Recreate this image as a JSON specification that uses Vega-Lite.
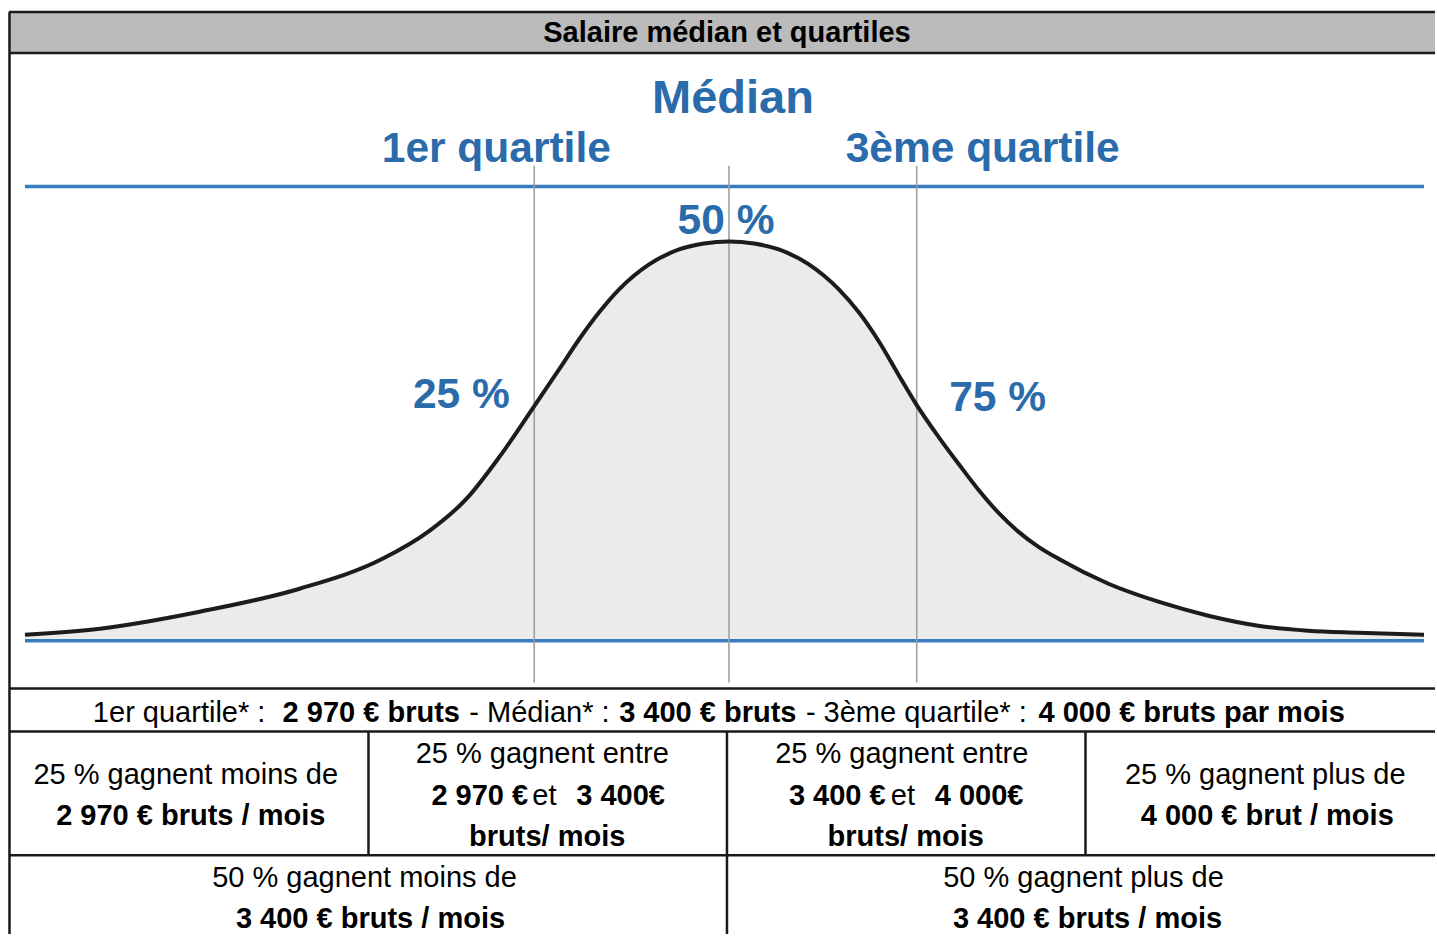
{
  "$schema": "https://vega.github.io/schema/vega-lite/v6.json",
  "width": 1437,
  "height": 936,
  "autosize": {"type": "fit", "contains": "padding"},
  "padding": 0,
  "background": "white",
  "config": {"view": {"stroke": null}, "text": {"font": "Liberation Sans"}},
  "datasets": {
    "titlebar": [{"x": 9, "x2": 1437, "y": 12, "y2": 53}],
    "curve": [
      {"x": 25, "y": 636}, {"x": 100, "y": 630}, {"x": 200, "y": 613}, {"x": 300, "y": 590},
      {"x": 383, "y": 560}, {"x": 430, "y": 532}, {"x": 467, "y": 500}, {"x": 500, "y": 458},
      {"x": 535, "y": 407}, {"x": 560, "y": 370}, {"x": 580, "y": 340}, {"x": 600, "y": 313},
      {"x": 620, "y": 290}, {"x": 650, "y": 265}, {"x": 680, "y": 250}, {"x": 705, "y": 244},
      {"x": 730, "y": 242}, {"x": 755, "y": 244}, {"x": 780, "y": 250}, {"x": 810, "y": 265},
      {"x": 840, "y": 290}, {"x": 860, "y": 313}, {"x": 880, "y": 342}, {"x": 900, "y": 376},
      {"x": 918, "y": 406}, {"x": 940, "y": 438}, {"x": 960, "y": 465}, {"x": 980, "y": 491},
      {"x": 1000, "y": 514}, {"x": 1020, "y": 533}, {"x": 1040, "y": 548}, {"x": 1060, "y": 560},
      {"x": 1110, "y": 585}, {"x": 1160, "y": 603}, {"x": 1210, "y": 617},
      {"x": 1260, "y": 627}, {"x": 1310, "y": 632}, {"x": 1360, "y": 634}, {"x": 1426, "y": 636}
    ],
    "bluelines": [{"x": 25, "x2": 1426, "y": 187}, {"x": 25, "x2": 1426, "y": 642}],
    "quartiles": [{"x": 535, "y": 166, "y2": 684}, {"x": 730, "y": 166, "y2": 684}, {"x": 918, "y": 166, "y2": 684}],
    "hborders": [
      {"x": 9, "x2": 1437, "y": 12}, {"x": 9, "x2": 1437, "y": 53}, {"x": 9, "x2": 1437, "y": 690},
      {"x": 9, "x2": 1437, "y": 733}, {"x": 9, "x2": 1437, "y": 857}
    ],
    "vborders": [
      {"x": 9.5, "y": 12, "y2": 936}, {"x": 369, "y": 733, "y2": 857},
      {"x": 728, "y": 733, "y2": 936}, {"x": 1087, "y": 733, "y2": 857}
    ],
    "bluelabels": [
      {"text": "Médian", "x": 734, "y": 99, "kind": "head"},
      {"text": "1er quartile", "x": 497, "y": 149, "kind": "sub"},
      {"text": "3ème quartile", "x": 984, "y": 149, "kind": "sub"},
      {"text": "50 %", "x": 727, "y": 221, "kind": "sub"},
      {"text": "25 %", "x": 462, "y": 396, "kind": "sub"},
      {"text": "75 %", "x": 999, "y": 399, "kind": "sub"}
    ],
    "titletext": [{"text": "Salaire médian et quartiles", "x": 728, "y": 33}],
    "tabletext": [
      {"text": "1er quartile* :", "x": 93, "y": 715, "part": "caption", "flow": "run"},
      {"text": "2 970 € bruts", "x": 283, "y": 715, "part": "value", "flow": "run"},
      {"text": "- Médian* :", "x": 470, "y": 715, "part": "caption", "flow": "run"},
      {"text": "3 400 € bruts", "x": 620, "y": 715, "part": "value", "flow": "run"},
      {"text": "- 3ème quartile* :", "x": 807, "y": 715, "part": "caption", "flow": "run"},
      {"text": "4 000 € bruts par mois", "x": 1040, "y": 715, "part": "value", "flow": "run"},
      {"text": "25 % gagnent moins de", "x": 186, "y": 777, "part": "caption", "flow": "centre"},
      {"text": "2 970 € bruts / mois", "x": 191, "y": 818, "part": "value", "flow": "centre"},
      {"text": "25 % gagnent entre", "x": 543, "y": 756, "part": "caption", "flow": "centre"},
      {"text": "2 970 €", "x": 432, "y": 798, "part": "value", "flow": "run"},
      {"text": "et", "x": 533, "y": 798, "part": "caption", "flow": "run"},
      {"text": "3 400€", "x": 577, "y": 798, "part": "value", "flow": "run"},
      {"text": "bruts/ mois", "x": 548, "y": 839, "part": "value", "flow": "centre"},
      {"text": "25 % gagnent entre", "x": 903, "y": 756, "part": "caption", "flow": "centre"},
      {"text": "3 400 €", "x": 790, "y": 798, "part": "value", "flow": "run"},
      {"text": "et", "x": 892, "y": 798, "part": "caption", "flow": "run"},
      {"text": "4 000€", "x": 936, "y": 798, "part": "value", "flow": "run"},
      {"text": "bruts/ mois", "x": 907, "y": 839, "part": "value", "flow": "centre"},
      {"text": "25 % gagnent plus de", "x": 1267, "y": 777, "part": "caption", "flow": "centre"},
      {"text": "4 000 € brut / mois", "x": 1269, "y": 818, "part": "value", "flow": "centre"},
      {"text": "50 % gagnent moins de", "x": 365, "y": 880, "part": "caption", "flow": "centre"},
      {"text": "3 400 € bruts / mois", "x": 371, "y": 921, "part": "value", "flow": "centre"},
      {"text": "50 % gagnent plus de", "x": 1085, "y": 880, "part": "caption", "flow": "centre"},
      {"text": "3 400 € bruts / mois", "x": 1089, "y": 921, "part": "value", "flow": "centre"}
    ]
  },
  "layer": [
    {
      "data": {"name": "titlebar"},
      "mark": {"type": "rect", "fill": "#bbbbbb"},
      "encoding": {
        "x": {"field": "x", "type": "quantitative", "scale": {"domain": [0, 1437], "nice": false, "zero": false}, "axis": null},
        "x2": {"field": "x2"},
        "y": {"field": "y", "type": "quantitative", "scale": {"domain": [0, 936], "nice": false, "zero": false, "reverse": true}, "axis": null},
        "y2": {"field": "y2"}
      }
    },
    {
      "data": {"name": "curve"},
      "mark": {"type": "area", "fill": "#ebebeb", "interpolate": "monotone"},
      "encoding": {
        "x": {"field": "x", "type": "quantitative"},
        "y": {"field": "y", "type": "quantitative"},
        "y2": {"datum": 641}
      }
    },
    {
      "data": {"name": "bluelines"},
      "mark": {"type": "rule", "stroke": "#3a7cc0", "strokeWidth": 3.5},
      "encoding": {
        "x": {"field": "x", "type": "quantitative"},
        "x2": {"field": "x2"},
        "y": {"field": "y", "type": "quantitative"}
      }
    },
    {
      "data": {"name": "quartiles"},
      "mark": {"type": "rule", "stroke": "#a0a0a0", "strokeWidth": 1.6},
      "encoding": {
        "x": {"field": "x", "type": "quantitative"},
        "y": {"field": "y", "type": "quantitative"},
        "y2": {"field": "y2"}
      }
    },
    {
      "data": {"name": "curve"},
      "mark": {"type": "line", "stroke": "#1c1c1c", "strokeWidth": 4, "interpolate": "monotone"},
      "encoding": {
        "x": {"field": "x", "type": "quantitative"},
        "y": {"field": "y", "type": "quantitative"}
      }
    },
    {
      "data": {"name": "hborders"},
      "mark": {"type": "rule", "stroke": "#1a1a1a", "strokeWidth": 2.5},
      "encoding": {
        "x": {"field": "x", "type": "quantitative"},
        "x2": {"field": "x2"},
        "y": {"field": "y", "type": "quantitative"}
      }
    },
    {
      "data": {"name": "vborders"},
      "mark": {"type": "rule", "stroke": "#1a1a1a", "strokeWidth": 2.5},
      "encoding": {
        "x": {"field": "x", "type": "quantitative"},
        "y": {"field": "y", "type": "quantitative"},
        "y2": {"field": "y2"}
      }
    },
    {
      "data": {"name": "bluelabels"},
      "transform": [{"filter": "datum.kind === 'head'"}],
      "mark": {"type": "text", "fontWeight": "bold", "fontSize": 47, "fill": "#2a6bab", "align": "center", "baseline": "middle"},
      "encoding": {
        "x": {"field": "x", "type": "quantitative"},
        "y": {"field": "y", "type": "quantitative"},
        "text": {"field": "text"}
      }
    },
    {
      "data": {"name": "bluelabels"},
      "transform": [{"filter": "datum.kind === 'sub'"}],
      "mark": {"type": "text", "fontWeight": "bold", "fontSize": 42.5, "fill": "#2a6bab", "align": "center", "baseline": "middle"},
      "encoding": {
        "x": {"field": "x", "type": "quantitative"},
        "y": {"field": "y", "type": "quantitative"},
        "text": {"field": "text"}
      }
    },
    {
      "data": {"name": "titletext"},
      "mark": {"type": "text", "fontWeight": "bold", "fontSize": 29, "fill": "#000000", "align": "center", "baseline": "middle"},
      "encoding": {
        "x": {"field": "x", "type": "quantitative"},
        "y": {"field": "y", "type": "quantitative"},
        "text": {"field": "text"}
      }
    },
    {
      "data": {"name": "tabletext"},
      "transform": [{"filter": "datum.part === 'value' && datum.flow === 'centre'"}],
      "mark": {"type": "text", "fontWeight": "bold", "fontSize": 29, "fill": "#000000", "align": "center", "baseline": "middle"},
      "encoding": {
        "x": {"field": "x", "type": "quantitative"},
        "y": {"field": "y", "type": "quantitative"},
        "text": {"field": "text"}
      }
    },
    {
      "data": {"name": "tabletext"},
      "transform": [{"filter": "datum.part === 'caption' && datum.flow === 'centre'"}],
      "mark": {"type": "text", "fontWeight": "normal", "fontSize": 29, "fill": "#000000", "align": "center", "baseline": "middle"},
      "encoding": {
        "x": {"field": "x", "type": "quantitative"},
        "y": {"field": "y", "type": "quantitative"},
        "text": {"field": "text"}
      }
    },
    {
      "data": {"name": "tabletext"},
      "transform": [{"filter": "datum.part === 'value' && datum.flow === 'run'"}],
      "mark": {"type": "text", "fontWeight": "bold", "fontSize": 29, "fill": "#000000", "align": "left", "baseline": "middle"},
      "encoding": {
        "x": {"field": "x", "type": "quantitative"},
        "y": {"field": "y", "type": "quantitative"},
        "text": {"field": "text"}
      }
    },
    {
      "data": {"name": "tabletext"},
      "transform": [{"filter": "datum.part === 'caption' && datum.flow === 'run'"}],
      "mark": {"type": "text", "fontWeight": "normal", "fontSize": 29, "fill": "#000000", "align": "left", "baseline": "middle"},
      "encoding": {
        "x": {"field": "x", "type": "quantitative"},
        "y": {"field": "y", "type": "quantitative"},
        "text": {"field": "text"}
      }
    }
  ]
}
